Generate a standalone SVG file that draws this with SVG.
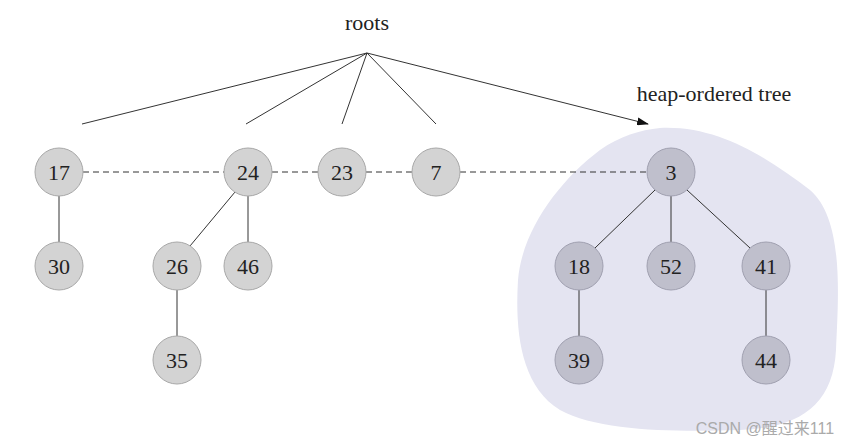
<svg xmlns="http://www.w3.org/2000/svg" width="865" height="447" viewBox="0 0 865 447">
<style>
.n{fill:#d3d3d3;stroke:#a8a8a8;stroke-width:1}
.h{fill:#bfbfcc;stroke:#a0a0b0;stroke-width:1}
text{font-family:"Liberation Serif","DejaVu Serif",serif;font-size:22px;fill:#222;text-anchor:middle}
.e{stroke:#333;stroke-width:1;fill:none}
.d{stroke:#333;stroke-width:1;stroke-dasharray:6,4;fill:none}
</style>
<defs><marker id="a" markerWidth="12" markerHeight="8" refX="11" refY="4" orient="auto" markerUnits="userSpaceOnUse"><path d="M0,0L12,4L0,8z" fill="#111"/></marker></defs>
<path d="M660,128C720,125 770,160 810,190C845,220 838,300 836,350C833,405 800,428 740,430C680,432 600,432 560,410C520,385 515,330 518,280C522,230 560,180 600,150C620,136 640,130 660,128Z" fill="#e4e4f1"/>
<text x="367" y="30">roots</text>
<text x="714" y="101">heap-ordered tree</text>
<g id="connectors">
<path class="e" marker-end="url(#a)" d="M367,53L82,124M367,53L246,124M367,53L342,124M367,53L436,124M367,53L648,124"/>
<path class="d" d="M83,172H224M272,172H318M366,172H412M460,172H647"/>
<path class="e" d="M59,196V242M235,192L190,246M248,196V242M177,290V336M655,190L595,248M671,196V242M687,190L750,248M579,290V336M766,290V336"/>
</g>
<g id="n17"><circle class="n" cx="59" cy="172" r="24"/><text x="59" y="180">17</text></g>
<g id="n24"><circle class="n" cx="248" cy="172" r="24"/><text x="248" y="180">24</text></g>
<g id="n23"><circle class="n" cx="342" cy="172" r="24"/><text x="342" y="180">23</text></g>
<g id="n7"><circle class="n" cx="436" cy="172" r="24"/><text x="436" y="180">7</text></g>
<g id="n30"><circle class="n" cx="59" cy="266" r="24"/><text x="59" y="274">30</text></g>
<g id="n26"><circle class="n" cx="177" cy="266" r="24"/><text x="177" y="274">26</text></g>
<g id="n46"><circle class="n" cx="248" cy="266" r="24"/><text x="248" y="274">46</text></g>
<g id="n35"><circle class="n" cx="177" cy="360" r="24"/><text x="177" y="368">35</text></g>
<g id="n3"><circle class="h" cx="671" cy="172" r="24"/><text x="671" y="180">3</text></g>
<g id="n18"><circle class="h" cx="579" cy="266" r="24"/><text x="579" y="274">18</text></g>
<g id="n52"><circle class="h" cx="671" cy="266" r="24"/><text x="671" y="274">52</text></g>
<g id="n41"><circle class="h" cx="766" cy="266" r="24"/><text x="766" y="274">41</text></g>
<g id="n39"><circle class="h" cx="579" cy="360" r="24"/><text x="579" y="368">39</text></g>
<g id="n44"><circle class="h" cx="766" cy="360" r="24"/><text x="766" y="368">44</text></g>
<text x="765" y="434" style="font-family:'Liberation Sans','Noto Sans CJK SC',sans-serif;font-size:16px;fill:#aaa">CSDN @醒过来111</text>
</svg>
